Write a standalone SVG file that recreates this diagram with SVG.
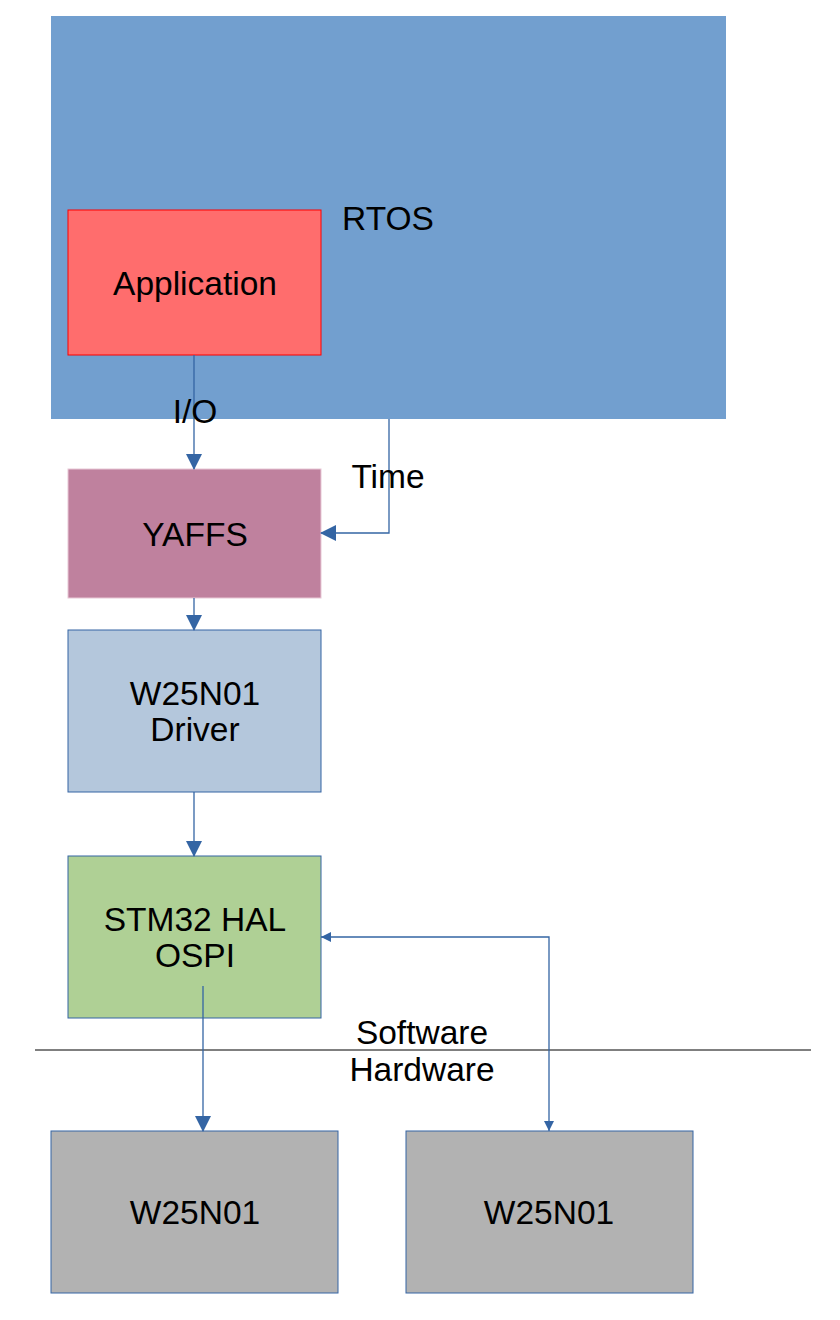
<svg xmlns="http://www.w3.org/2000/svg" width="840" height="1320" viewBox="0 0 840 1320">
<style>
text{font-family:"Liberation Sans",Arial,sans-serif;font-size:33.5px;fill:#000;text-anchor:middle}
.c{fill:none;stroke:#3465a4;stroke-width:1.3}
.n{stroke:#3465a4;stroke-width:1}
</style>
<defs>
<marker id="a" viewBox="0 0 16 16" markerWidth="16" markerHeight="16" refX="15" refY="8" orient="auto" markerUnits="userSpaceOnUse">
<path d="M0,0 L16,8 L0,16 Z" fill="#3465a4"/>
</marker>
<marker id="s" viewBox="0 0 10 10" markerWidth="10" markerHeight="10" refX="10" refY="5" orient="auto-start-reverse" markerUnits="userSpaceOnUse">
<path d="M0,0 L10,5 L0,10 Z" fill="#3465a4"/>
</marker>
</defs>
<rect width="840" height="1320" fill="#fff"/>
<g id="rtos">
<rect x="51" y="16" width="675" height="403" fill="#729fcf"/>
<text x="388" y="230">RTOS</text>
</g>
<g id="application">
<rect x="68" y="210" width="253" height="145" fill="#ff6d6d" stroke="#ff0000" stroke-width="1"/>
<text x="195" y="295">Application</text>
</g>
<g id="yaffs">
<rect x="68" y="469" width="253" height="129" fill="#bf819e" stroke="#e8c8d6" stroke-width="1"/>
<text x="195" y="546">YAFFS</text>
</g>
<g id="driver">
<rect x="68" y="630" width="253" height="162" class="n" fill="#b4c7dc"/>
<text x="195" y="705">W25N01</text>
<text x="195" y="741">Driver</text>
</g>
<g id="hal">
<rect x="68" y="856" width="253" height="162" class="n" fill="#afd095"/>
<text x="195" y="931">STM32 HAL</text>
<text x="195" y="967">OSPI</text>
</g>
<g id="divider">
<line x1="35" y1="1050" x2="811" y2="1050" stroke="#000" stroke-width="1"/>
<text x="422" y="1044">Software</text>
<text x="422" y="1081">Hardware</text>
</g>
<g id="w25n01a">
<rect x="51" y="1131" width="287" height="162" class="n" fill="#b2b2b2"/>
<text x="195" y="1224">W25N01</text>
</g>
<g id="w25n01b">
<rect x="406" y="1131" width="287" height="162" class="n" fill="#b2b2b2"/>
<text x="549" y="1224">W25N01</text>
</g>
<g id="connectors">
<path class="c" d="M194,355 V469" marker-end="url(#a)"/>
<path class="c" d="M389,419 V533 H321" marker-end="url(#a)"/>
<path class="c" d="M194,598 V630" marker-end="url(#a)"/>
<path class="c" d="M194,792 V856" marker-end="url(#a)"/>
<path class="c" d="M203,986 V1131" marker-end="url(#a)"/>
<path class="c" d="M321,937 H549 V1131" marker-start="url(#s)" marker-end="url(#s)"/>
<text x="195" y="423">I/O</text>
<text x="388" y="488">Time</text>
</g>
</svg>
